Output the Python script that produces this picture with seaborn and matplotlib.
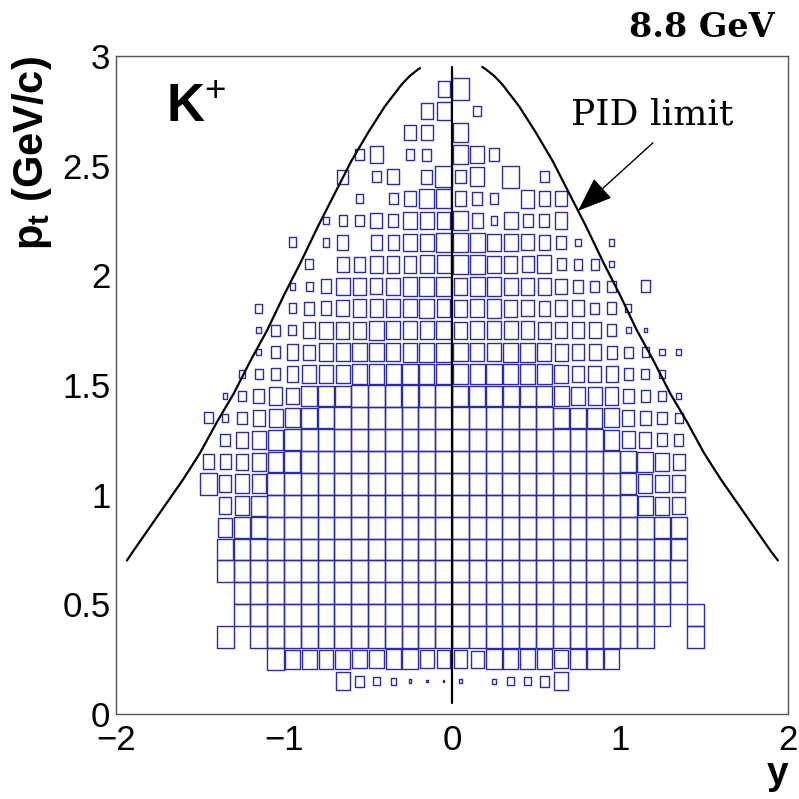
import matplotlib
matplotlib.use("Agg")
import matplotlib.pyplot as plt
from matplotlib.path import Path
from matplotlib.ticker import MultipleLocator, FixedLocator, FixedFormatter
import pandas as pd
import seaborn as sns

# ---------------- data ----------------
rapidity_centers = [-1.45, -1.35, -1.25, -1.15, -1.05, -0.95, -0.85, -0.75, -0.65, -0.55,
                    -0.45, -0.35, -0.25, -0.15, -0.05, 0.05, 0.15, 0.25, 0.35, 0.45,
                    0.55, 0.65, 0.75, 0.85, 0.95, 1.05, 1.15, 1.25, 1.35, 1.45]
pt_centers = [0.15, 0.25, 0.35, 0.45, 0.55, 0.65, 0.75, 0.85, 0.95, 1.05,
              1.15, 1.25, 1.35, 1.45, 1.55, 1.65, 1.75, 1.85, 1.95, 2.05,
              2.15, 2.25, 2.35, 2.45, 2.55, 2.65, 2.75, 2.85]

# relative box size (side fraction of the bin) for each pt row, columns follow rapidity_centers
row_015 = [0, 0, 0, 0, 0, 0, 0, 0, .80, .50, .40, .32, .17, .12, .10, .17, 0, .22, .40, .40, .50, .80, 0, 0, 0, 0, 0, 0, 0, 0]
row_025 = [0, 0, 0, 0, 1, .88, .88, .88, .88, .85, .85, .90, .90, .80, .80, .80, .76, .90, .90, .90, .90, .85, .93, .93, .90, 0, 0, 0, 0, 0]
row_035 = [0, 1, 0, 1, 1, 1, 1, 1, 1, 1, 1, 1, 1, 1, 1, 1, 1, 1, 1, 1, 1, 1, 1, 1, 1, 1, 1, 0, 0, 1]
row_045 = [0, 0, 1, 1, 1, 1, 1, 1, 1, 1, 1, 1, 1, 1, 1, 1, 1, 1, 1, 1, 1, 1, 1, 1, 1, 1, 1, 1, 0, 1]
row_055 = [0, 0, 1, 1, 1, 1, 1, 1, 1, 1, 1, 1, 1, 1, 1, 1, 1, 1, 1, 1, 1, 1, 1, 1, 1, 1, 1, 1, 1, 0]
row_065 = [0, 1, 1, 1, 1, 1, 1, 1, 1, 1, 1, 1, 1, 1, 1, 1, 1, 1, 1, 1, 1, 1, 1, 1, 1, 1, 1, 1, 1, 0]
row_075 = [0, .95, 1, 1, 1, 1, 1, 1, 1, 1, 1, 1, 1, 1, 1, 1, 1, 1, 1, 1, 1, 1, 1, 1, 1, 1, 1, 1, .95, 0]
row_085 = [0, .85, .93, .93, 1, 1, 1, 1, 1, 1, 1, 1, 1, 1, 1, 1, 1, 1, 1, 1, 1, 1, 1, 1, 1, 1, 1, .95, .95, 0]
row_095 = [0, .75, .85, .92, 1, 1, 1, 1, 1, 1, 1, 1, 1, 1, 1, 1, 1, 1, 1, 1, 1, 1, 1, 1, 1, 1, .88, .83, .78, 0]
row_105 = [1, .75, .85, .85, 1, 1, 1, 1, 1, 1, 1, 1, 1, 1, 1, 1, 1, 1, 1, 1, 1, 1, 1, 1, 1, .95, .84, .80, .76, 0]
row_115 = [.67, .67, .75, .82, .92, .95, 1, 1, 1, 1, 1, 1, 1, 1, 1, 1, 1, 1, 1, 1, 1, 1, 1, 1, 1, .95, .93, .83, .75, 0]
row_125 = [0, .57, .70, .82, .90, .97, 1, 1, 1, 1, 1, 1, 1, 1, 1, 1, 1, 1, 1, 1, 1, 1, 1, 1, .92, .78, .72, .60, .55, 0]
row_135 = [.50, .35, .55, .72, .83, .87, .93, .95, 1, 1, 1, 1, 1, 1, 1, 1, 1, 1, 1, 1, 1, .92, .92, .90, .87, .72, .65, .55, .45, 0]
row_145 = [0, .27, .45, .65, .82, .75, .93, .93, .95, .97, .97, .97, .97, .97, .97, .95, .95, .95, .95, .95, .95, .90, .85, .85, .78, .62, .55, .48, .30, 0]
row_155 = [0, 0, .38, .45, .58, .70, .80, .83, .83, .90, .90, .90, .90, .90, .90, .90, .90, .90, .90, .90, .90, .83, .77, .77, .72, .55, .48, .37, 0, 0]
row_165 = [0, 0, 0, .30, .55, .70, .68, .80, .80, .85, .85, .85, .87, .87, .87, .85, .85, .85, .87, .87, .83, .78, .75, .75, .60, .50, .42, .30, .30, 0]
row_175 = [0, 0, 0, .28, .50, .48, .72, .78, .78, .78, .87, .80, .85, .85, .85, .78, .80, .85, .80, .80, .78, .72, .72, .70, .57, .30, .20, 0, 0, 0]
row_185 = [0, 0, 0, .40, 0, .45, .60, .65, .75, .80, .80, .82, .82, .87, .82, .78, .80, .85, .78, .75, .68, .75, .75, .52, .55, .35, 0, 0, 0, 0]
row_195 = [0, 0, 0, 0, 0, .33, .42, .65, .80, .80, .72, .80, .88, .88, .88, .78, .88, .88, .80, .80, .78, .68, .60, .52, .50, 0, .55, 0, 0, 0]
row_205 = [0, 0, 0, 0, 0, 0, .45, 0, .70, .70, .75, .75, .75, .83, .83, .85, .88, .78, .78, .72, .83, .55, .50, .50, .28, 0, 0, 0, 0, 0]
row_215 = [0, 0, 0, 0, 0, .45, 0, .38, .65, 0, .65, .65, .80, .80, .85, .87, .87, .80, .80, .73, .65, .57, .30, 0, .30, 0, 0, 0, 0, 0]
row_225 = [0, 0, 0, 0, 0, 0, 0, .33, .50, .53, .72, .60, .80, .80, .80, .90, .65, .40, .80, .60, .60, .75, 0, 0, 0, 0, 0, 0, 0, 0]
row_235 = [0, 0, 0, 0, 0, 0, 0, 0, 0, .42, 0, .53, .72, .88, .88, .70, .60, .50, 0, .82, .70, .70, 0, 0, 0, 0, 0, 0, 0, 0]
row_245 = [0, 0, 0, 0, 0, 0, 0, 0, .65, 0, .53, .70, 0, .65, .98, .62, .85, 0, 1, 0, .53, 0, 0, 0, 0, 0, 0, 0, 0, 0]
row_255 = [0, 0, 0, 0, 0, 0, 0, 0, 0, .50, .80, 0, .50, .55, 0, .85, .80, .58, 0, 0, 0, 0, 0, 0, 0, 0, 0, 0, 0, 0]
row_265 = [0, 0, 0, 0, 0, 0, 0, 0, 0, 0, 0, 0, .68, .70, 0, .88, 0, 0, 0, 0, 0, 0, 0, 0, 0, 0, 0, 0, 0, 0]
row_275 = [0, 0, 0, 0, 0, 0, 0, 0, 0, 0, 0, 0, 0, .70, .83, 0, .45, 0, 0, 0, 0, 0, 0, 0, 0, 0, 0, 0, 0, 0]
row_285 = [0, 0, 0, 0, 0, 0, 0, 0, 0, 0, 0, 0, 0, 0, .72, 1, 0, 0, 0, 0, 0, 0, 0, 0, 0, 0, 0, 0, 0, 0]

# PID limit curve
pid_left_y = [-1.935, -1.9, -1.8, -1.7, -1.6, -1.5, -1.4, -1.3, -1.2, -1.1, -1.0, -0.9,
              -0.8, -0.7, -0.6, -0.5, -0.45, -0.4, -0.35, -0.3, -0.25, -0.2, -0.19]
pid_left_pt = [0.70, 0.74, 0.85, 0.96, 1.07, 1.19, 1.33, 1.46, 1.61, 1.75, 1.91, 2.06,
               2.22, 2.37, 2.52, 2.65, 2.71, 2.77, 2.82, 2.87, 2.91, 2.94, 2.945]
pid_right_y = [0.18, 0.2, 0.25, 0.3, 0.35, 0.4, 0.45, 0.5, 0.6, 0.7, 0.8, 0.9,
               1.0, 1.1, 1.2, 1.3, 1.4, 1.5, 1.6, 1.7, 1.8, 1.9, 1.94]
pid_right_pt = [2.95, 2.94, 2.91, 2.87, 2.82, 2.77, 2.71, 2.65, 2.52, 2.37, 2.22, 2.06,
                1.91, 1.75, 1.61, 1.46, 1.33, 1.19, 1.07, 0.96, 0.85, 0.74, 0.70]
midline_y = [0.0, 0.0]
midline_pt = [0.05, 2.95]

x_ticks = [-2, -1, 0, 1, 2]
x_tick_labels = ["\u22122", "\u22121", "0", "1", "2"]
y_ticks = [0, 0.5, 1, 1.5, 2, 2.5, 3]
y_tick_labels = ["0", "0.5", "1", "1.5", "2", "2.5", "3"]

rows = [row_015, row_025, row_035, row_045, row_055, row_065, row_075, row_085, row_095, row_105,
        row_115, row_125, row_135, row_145, row_155, row_165, row_175, row_185, row_195, row_205,
        row_215, row_225, row_235, row_245, row_255, row_265, row_275, row_285]

records = []
for ptv, row in zip(pt_centers, rows):
    for yv, f in zip(rapidity_centers, row):
        if f > 0:
            records.append({"rap": yv, "pt": ptv, "area": f * f})
df = pd.DataFrame(records)

# ---------------- style ----------------
sns.set_style("white")
plt.rcParams["font.family"] = ["Liberation Sans", "DejaVu Sans"]
plt.rcParams["text.color"] = "black"
plt.rcParams["axes.labelcolor"] = "black"
plt.rcParams["xtick.color"] = "black"
plt.rcParams["ytick.color"] = "black"
plt.rcParams["mathtext.fontset"] = "custom"
plt.rcParams["mathtext.rm"] = "Liberation Sans"
plt.rcParams["mathtext.bf"] = "Liberation Sans:bold"
plt.rcParams["mathtext.it"] = "Liberation Sans:italic"

W = 799
fig = plt.figure(figsize=(7.99, 7.99), dpi=100)
L, R, T, B = 116, 788, 56, 714
ax = fig.add_axes([L / W, 1 - B / W, (R - L) / W, (B - T) / W])
ax.set_xlim(-2, 2)
ax.set_ylim(0, 3)

# box marker: aspect of one bin cell
bw_px = (R - L) / 40.0
bh_px = (B - T) / 30.0
hw = 0.5 * bw_px / bh_px
rect = Path([(-hw, -0.5), (hw, -0.5), (hw, 0.5), (-hw, 0.5), (-hw, -0.5)],
            [Path.MOVETO, Path.LINETO, Path.LINETO, Path.LINETO, Path.CLOSEPOLY])
s_full = (bh_px * 72 / 100.0) ** 2
box_color = "#2a2aaa"

sns.scatterplot(data=df, x="rap", y="pt", size="area", sizes=(0, s_full), size_norm=(0, 1),
                marker=rect, facecolor="none", edgecolor=box_color, linewidth=1.0,
                legend=False, ax=ax, zorder=2)
coll = ax.collections[-1]
coll.set_facecolor("none")
coll.set_edgecolor(box_color)

sns.lineplot(x=pid_left_y, y=pid_left_pt, sort=False, estimator=None, color="black",
             linewidth=1.6, ax=ax, zorder=3)
sns.lineplot(x=pid_right_y, y=pid_right_pt, sort=False, estimator=None, color="black",
             linewidth=1.6, ax=ax, zorder=3)
sns.lineplot(x=midline_y, y=midline_pt, sort=False, estimator=None, color="black",
             linewidth=1.6, ax=ax, zorder=3)

# axes frame and ticks
for sp in ax.spines.values():
    sp.set_color("#555555")
    sp.set_linewidth(1.0)
    sp.set_visible(True)
ax.xaxis.set_major_locator(FixedLocator(x_ticks))
ax.xaxis.set_major_formatter(FixedFormatter(x_tick_labels))
ax.yaxis.set_major_locator(FixedLocator(y_ticks))
ax.yaxis.set_major_formatter(FixedFormatter(y_tick_labels))
ax.xaxis.set_minor_locator(MultipleLocator(0.2))
ax.yaxis.set_minor_locator(MultipleLocator(0.1))
ax.tick_params(axis="both", which="both", direction="in", color="#555555", width=1.0,
               top=False, right=False, labelsize=25, labelcolor="black")
ax.tick_params(axis="x", which="major", length=15, pad=7)
ax.tick_params(axis="x", which="minor", length=6.7)
ax.tick_params(axis="y", which="major", length=10.8, pad=4)
ax.tick_params(axis="y", which="minor", length=7.9)

ax.set_xlabel("y", fontsize=28, fontweight="bold", loc="right", color="black")
ax.xaxis.set_label_coords(1.0, -0.064)
ax.set_ylabel(r"$\mathbf{p_{t}}$ $\mathbf{(GeV/c)}$", fontsize=30, loc="top", color="black")
ax.yaxis.set_label_coords(-0.093, 1.0)

ax.text(0.074, 0.90, r"$\mathbf{K}^{+}$", transform=ax.transAxes, fontsize=38,
        ha="left", va="baseline", color="black")
fig.text(775 / W, 1 - 37 / W, "8.8 GeV", fontsize=24, fontweight="bold",
         family="DejaVu Serif", ha="right", va="baseline", color="black")
ax.text(0.708, 2.686, "PID limit", fontsize=26, family="DejaVu Serif",
        ha="left", va="baseline", color="black")
ax.annotate("", xy=(0.750, 2.294), xytext=(1.196, 2.604),
            arrowprops=dict(arrowstyle="-|>,head_length=1.1,head_width=0.42",
                            mutation_scale=20, lw=1.0, color="black",
                            shrinkA=0, shrinkB=0))

fig.savefig("out.png", dpi=100)
